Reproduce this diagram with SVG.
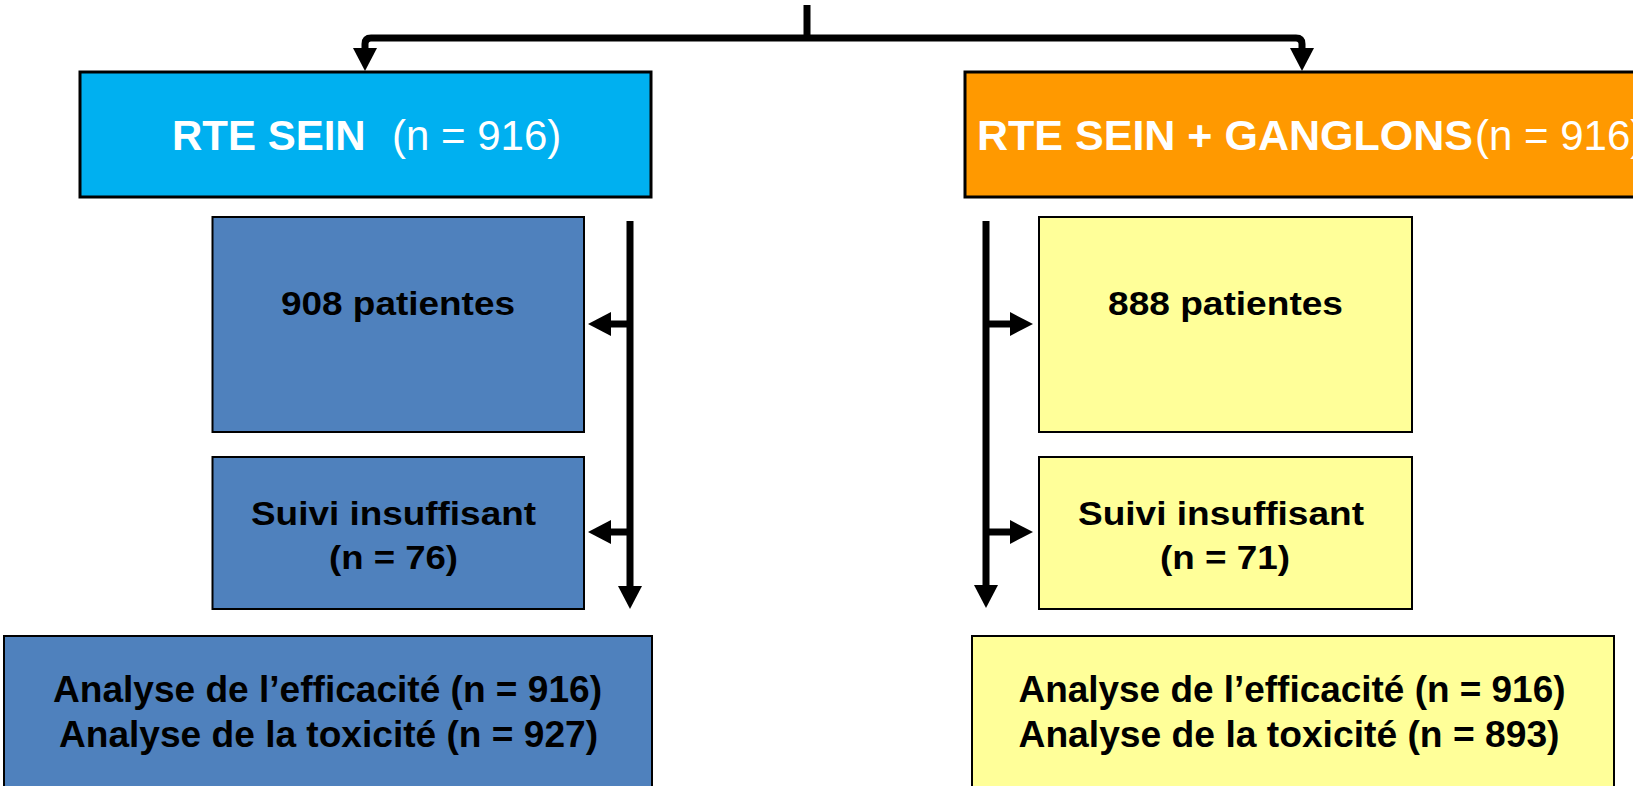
<svg xmlns="http://www.w3.org/2000/svg" width="1633" height="786" viewBox="0 0 1633 786">
<defs>
<style>
.box{stroke:#000;stroke-width:2}
.top{stroke:#000;stroke-width:3}
.cyan{fill:#00B0F0}
.orange{fill:#FF9900}
.blue{fill:#4F81BD}
.yellow{fill:#FFFF99}
text{font-family:"Liberation Sans",Arial,Helvetica,sans-serif}
.title{font-size:42px;fill:#fff}
.b{font-weight:bold}
.mid{font-size:33px;font-weight:bold;fill:#000;text-anchor:middle}
.bot{font-size:37px;font-weight:bold;fill:#000;text-anchor:middle}
.conn{fill:none;stroke:#000;stroke-width:7}
</style>
<marker id="arr" markerUnits="userSpaceOnUse" markerWidth="24" markerHeight="24" viewBox="0 0 24 24" refX="3" refY="12" orient="auto-start-reverse">
<path d="M0,0 L23,12 L0,24 Z" fill="#000"/>
</marker>
</defs>
<rect width="1633" height="786" fill="#fff"/>

<g id="connectors">
<path class="conn" d="M807,5 V38" stroke-width="8"/>
<path class="conn" d="M365,51 V44 Q365,38 371,38 H1296 Q1302,38 1302,44 V51" stroke-width="8" marker-start="url(#arr)" marker-end="url(#arr)"/>
<path class="conn" d="M630,221 V589" marker-end="url(#arr)"/>
<path class="conn" d="M630,324 H608" marker-end="url(#arr)"/>
<path class="conn" d="M630,532 H608" marker-end="url(#arr)"/>
<path class="conn" d="M986,221 V588" marker-end="url(#arr)"/>
<path class="conn" d="M986,324 H1013" marker-end="url(#arr)"/>
<path class="conn" d="M986,532 H1013" marker-end="url(#arr)"/>
</g>

<g id="rte-sein">
<rect class="top cyan" x="80" y="72" width="571" height="125"/>
<text class="title" y="150"><tspan class="b" x="172">RTE SEIN</tspan><tspan x="392">(n = 916)</tspan></text>
</g>

<g id="rte-sein-ganglons">
<rect class="top orange" x="965" y="72" width="700" height="125"/>
<text class="title" y="150"><tspan class="b" x="977" textLength="496" lengthAdjust="spacingAndGlyphs">RTE SEIN + GANGLONS</tspan><tspan x="1475">(n = 916)</tspan></text>
</g>

<g id="left-908">
<rect class="box blue" x="212.5" y="217" width="371.5" height="215"/>
<text class="mid" x="398" y="315" textLength="234" lengthAdjust="spacingAndGlyphs">908 patientes</text>
</g>

<g id="left-suivi">
<rect class="box blue" x="212.5" y="457" width="371.5" height="152"/>
<text class="mid" x="393.5" y="525" textLength="285" lengthAdjust="spacingAndGlyphs">Suivi insuffisant</text>
<text class="mid" x="393.5" y="569" textLength="129" lengthAdjust="spacingAndGlyphs">(n = 76)</text>
</g>

<g id="right-888">
<rect class="box yellow" x="1039" y="217" width="373" height="215"/>
<text class="mid" x="1225.5" y="315" textLength="235" lengthAdjust="spacingAndGlyphs">888 patientes</text>
</g>

<g id="right-suivi">
<rect class="box yellow" x="1039" y="457" width="373" height="152"/>
<text class="mid" x="1221" y="525" textLength="286" lengthAdjust="spacingAndGlyphs">Suivi insuffisant</text>
<text class="mid" x="1225" y="569" textLength="130" lengthAdjust="spacingAndGlyphs">(n = 71)</text>
</g>

<g id="left-analyse">
<rect class="box blue" x="4" y="636" width="648" height="170"/>
<text class="bot" x="327.5" y="702" textLength="549" lengthAdjust="spacingAndGlyphs">Analyse de l’efficacité (n = 916)</text>
<text class="bot" x="328.5" y="747" textLength="539" lengthAdjust="spacingAndGlyphs">Analyse de la toxicité (n = 927)</text>
</g>

<g id="right-analyse">
<rect class="box yellow" x="972" y="636" width="642" height="170"/>
<text class="bot" x="1292" y="702" textLength="547" lengthAdjust="spacingAndGlyphs">Analyse de l’efficacité (n = 916)</text>
<text class="bot" x="1289" y="747" textLength="541" lengthAdjust="spacingAndGlyphs">Analyse de la toxicité (n = 893)</text>
</g>
</svg>
